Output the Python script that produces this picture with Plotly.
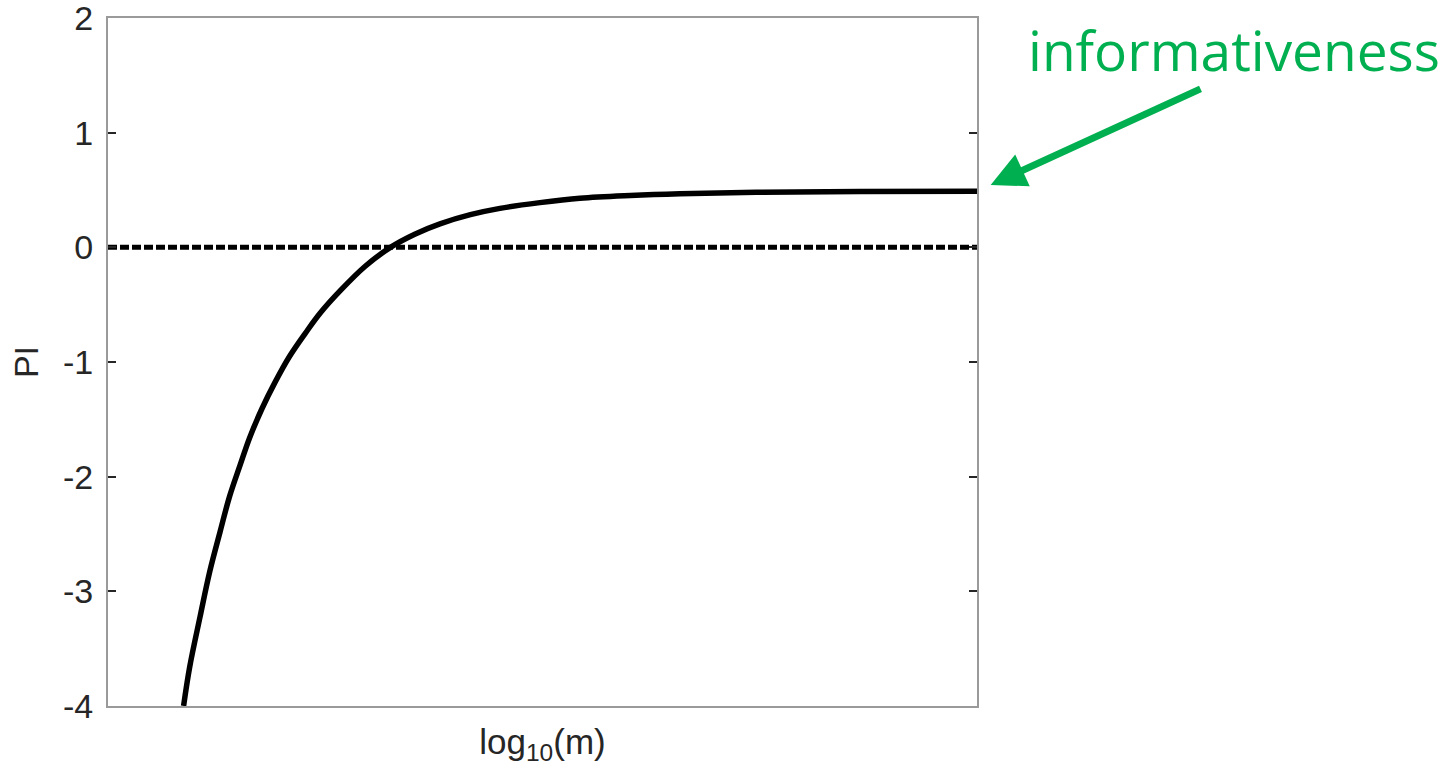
import plotly.graph_objects as go

# PI as a function of log10(m) (x in arbitrary units across the axis)
log_m = [0.87, 0.94, 1.06, 1.17, 1.29, 1.40, 1.52, 1.63, 1.77, 1.92,
         2.09, 2.27, 2.44, 2.67, 2.96, 3.25, 3.53, 3.82, 4.17, 4.51,
         4.97, 5.43, 6.01, 6.58, 7.50, 8.65, 10.0]
pi_vals = [-4.0, -3.66, -3.22, -2.83, -2.48, -2.17, -1.90, -1.66, -1.41, -1.18,
           -0.95, -0.75, -0.575, -0.38, -0.165, 0.0, 0.115, 0.205, 0.285, 0.34,
           0.39, 0.428, 0.452, 0.467, 0.48, 0.487, 0.49]

zero_x = [0.0, 10.0]
zero_y = [0.0, 0.0]

y_ticks = [2, 1, 0, -1, -2, -3, -4]
y_tick_text = ["2", "1", "0", "-1", "-2", "-3", "-4"]

frame_col = "#9a9a9a"
text_col = "#262626"
green = "#00b050"
font_family = "Liberation Sans, Arial"

fig = go.Figure()

fig.add_trace(go.Scatter(
    x=zero_x, y=zero_y, mode="lines",
    line=dict(color="black", width=5, dash="9px,3px"),
    hoverinfo="skip", showlegend=False,
))

fig.add_trace(go.Scatter(
    x=log_m, y=pi_vals, mode="lines",
    line=dict(color="black", width=5.5, shape="spline", smoothing=1.0),
    showlegend=False,
))

fig.update_xaxes(
    range=[0, 10], showticklabels=False, ticks="",
    showgrid=False, zeroline=False, automargin=False,
    showline=True, linecolor=frame_col, linewidth=2, mirror=True,
    title=dict(text="log<sub>10</sub>(m)",
               font=dict(size=35, color=text_col, family=font_family), standoff=22),
)
fig.update_yaxes(
    range=[-4.0005, 2.0005], tickvals=y_ticks, ticktext=y_tick_text,
    ticks="inside", ticklen=8, tickwidth=1.5, tickcolor=text_col,
    showgrid=False, zeroline=False, automargin=False,
    showline=True, linecolor=frame_col, linewidth=2, mirror="ticks",
    ticklabelstandoff=6, ticklabeloverflow="allow",
    tickfont=dict(size=34, color=text_col, family=font_family),
    title=dict(text="PI", font=dict(size=34, color=text_col, family=font_family),
               standoff=14),
)

# green arrow pointing at the plateau of the curve
fig.add_annotation(
    x=10.0, y=0.49, xref="x", yref="y",
    ax=225, ay=-103, axref="pixel", ayref="pixel",
    text="", showarrow=True, arrowhead=2, arrowsize=1.0, arrowwidth=7,
    arrowcolor=green, standoff=15,
)
fig.add_annotation(
    x=1.2958, y=0.9535, xref="paper", yref="paper",
    xanchor="center", yanchor="middle",
    text="informativeness", showarrow=False,
    font=dict(size=55, color=green, family="Open Sans"),
)

fig.update_layout(
    width=1453, height=777,
    margin=dict(l=108, r=476, t=18, b=71),
    paper_bgcolor="white", plot_bgcolor="white",
)

fig.write_html("out.html")
